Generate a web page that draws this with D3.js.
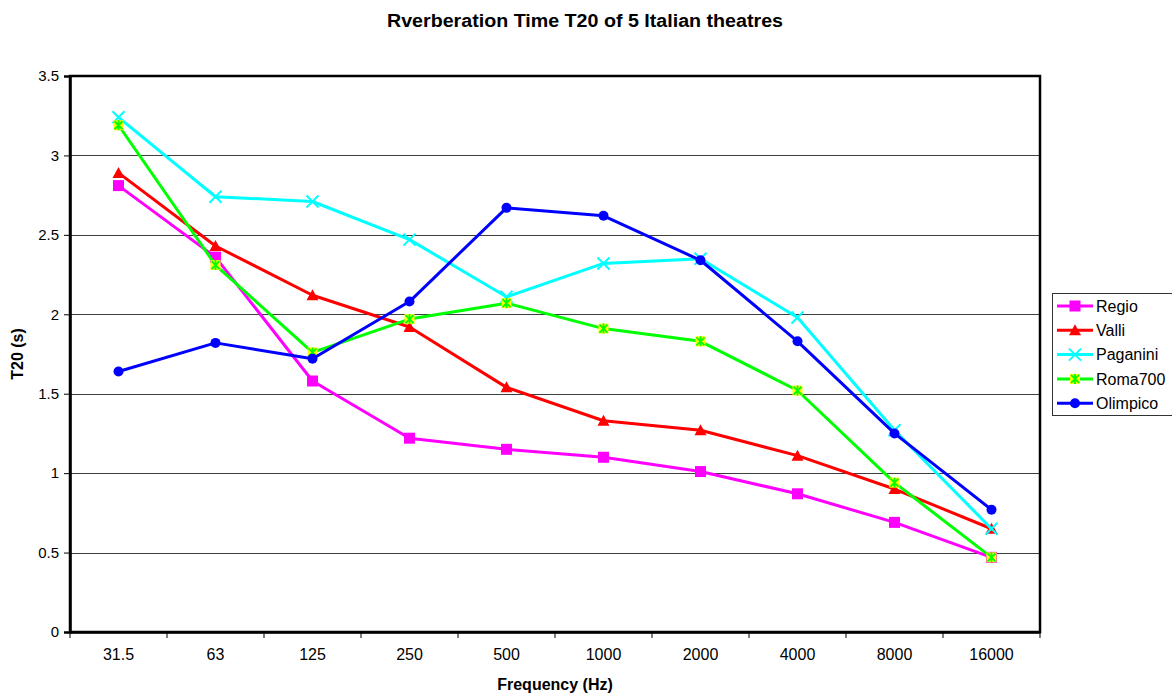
<!DOCTYPE html>
<html>
<head>
<meta charset="utf-8">
<script src="https://cdn.jsdelivr.net/npm/d3@7"></script>
<style>
  body { margin: 0; background: #fff; }
  svg text { font-family: Arial, "Liberation Sans", sans-serif; }
</style>
</head>
<body>
<div id="chart"></div>
<script>
const frequencies = ["31.5", "63", "125", "250", "500", "1000", "2000", "4000", "8000", "16000"];
const regio    = [2.81, 2.36, 1.58, 1.22, 1.15, 1.10, 1.01, 0.87, 0.69, 0.47];
const valli    = [2.89, 2.43, 2.12, 1.92, 1.54, 1.33, 1.27, 1.11, 0.90, 0.65];
const paganini = [3.24, 2.74, 2.71, 2.47, 2.11, 2.32, 2.35, 1.98, 1.27, 0.65];
const roma700  = [3.19, 2.31, 1.76, 1.97, 2.07, 1.91, 1.83, 1.52, 0.94, 0.47];
const olimpico = [1.64, 1.82, 1.72, 2.08, 2.67, 2.62, 2.34, 1.83, 1.25, 0.77];
const yTicks = [0, 0.5, 1, 1.5, 2, 2.5, 3, 3.5];

const series = [
  {name: "Regio", values: regio, color: "#ff00ff", marker: "square"},
  {name: "Valli", values: valli, color: "#ff0000", marker: "triangle"},
  {name: "Paganini", values: paganini, color: "#00ffff", marker: "x"},
  {name: "Roma700", values: roma700, color: "#00ff00", marker: "star"},
  {name: "Olimpico", values: olimpico, color: "#0000ff", marker: "circle"}
];

const width = 1172, height = 693;
const margin = {top: 76, right: 132, bottom: 61, left: 70};

const svg = d3.select("#chart").append("svg")
  .attr("width", width)
  .attr("height", height);

const x = d3.scaleBand()
  .domain(frequencies)
  .range([margin.left, width - margin.right]);

const y = d3.scaleLinear()
  .domain([0, 3.5])
  .range([height - margin.bottom, margin.top]);

// gridlines
svg.append("g").selectAll("line")
  .data(yTicks.filter(d => d > 0 && d < 3.5))
  .join("line")
  .attr("x1", margin.left).attr("x2", width - margin.right)
  .attr("y1", d => Math.round(y(d)) + 0.5).attr("y2", d => Math.round(y(d)) + 0.5)
  .attr("stroke", "#000").attr("stroke-width", 1).attr("opacity", 0.75);

// plot frame
svg.append("rect")
  .attr("x", margin.left).attr("y", margin.top)
  .attr("width", width - margin.left - margin.right)
  .attr("height", height - margin.top - margin.bottom)
  .attr("fill", "none").attr("stroke", "#000").attr("stroke-width", 2.5);

// y axis
const yAxis = svg.append("g")
  .attr("transform", `translate(${margin.left},0)`)
  .call(d3.axisLeft(y).tickValues(yTicks).tickSize(6).tickPadding(5).tickFormat(d3.format("~g")));
yAxis.select(".domain").attr("stroke-width", 2.5);
yAxis.selectAll(".tick text").style("font-size", "15px").attr("fill", "#000");

// x axis: ticks at category boundaries
const xAxis = svg.append("g")
  .attr("transform", `translate(0,${height - margin.bottom})`)
  .call(d3.axisBottom(x).tickSize(0).tickPadding(17));
xAxis.select(".domain").attr("stroke-width", 2.5);
xAxis.selectAll(".tick text").style("font-size", "16px").attr("fill", "#000");
const bounds = frequencies.map(f => x(f)).concat([x.range()[1]]);
xAxis.append("g").selectAll("line")
  .data(bounds)
  .join("line")
  .attr("x1", d => d).attr("x2", d => d)
  .attr("y1", 0).attr("y2", 6)
  .attr("stroke", "#000");

const cx = f => x(f) + x.bandwidth() / 2;

const line = d3.line()
  .x((d, i) => cx(frequencies[i]))
  .y(d => y(d));

function drawMarker(g, type, color, px, py) {
  if (type === "square") {
    g.append("rect").attr("x", px - 5.5).attr("y", py - 5.5).attr("width", 11).attr("height", 11).attr("fill", color);
  } else if (type === "triangle") {
    g.append("path").attr("d", `M${px},${py - 6}L${px + 6},${py + 5}L${px - 6},${py + 5}Z`).attr("fill", color);
  } else if (type === "x") {
    g.append("path").attr("d", `M${px - 6},${py - 6}L${px + 6},${py + 6}M${px - 6},${py + 6}L${px + 6},${py - 6}`)
      .attr("stroke", color).attr("stroke-width", 2);
  } else if (type === "star") {
    g.append("rect").attr("x", px - 5).attr("y", py - 5).attr("width", 10).attr("height", 10).attr("fill", "#ffff00");
    g.append("path").attr("d", `M${px - 4},${py - 4}L${px + 4},${py + 4}M${px - 4},${py + 4}L${px + 4},${py - 4}M${px},${py - 5}L${px},${py + 5}`)
      .attr("stroke", color).attr("stroke-width", 1.8);
  } else if (type === "circle") {
    g.append("circle").attr("cx", px).attr("cy", py).attr("r", 5).attr("fill", color);
  }
}

series.forEach(s => {
  const g = svg.append("g");
  g.append("path")
    .datum(s.values)
    .attr("d", line)
    .attr("fill", "none")
    .attr("stroke", s.color)
    .attr("stroke-width", 3)
    .attr("stroke-linejoin", "round");
  s.values.forEach((v, i) => drawMarker(g, s.marker, s.color, cx(frequencies[i]), y(v)));
});

// titles
svg.append("text")
  .attr("x", 585).attr("y", 27)
  .attr("text-anchor", "middle")
  .attr("textLength", 396).attr("lengthAdjust", "spacingAndGlyphs")
  .style("font-size", "18px").style("font-weight", "bold")
  .text("Rverberation Time T20 of 5 Italian theatres");

svg.append("text")
  .attr("x", 555).attr("y", 690)
  .attr("text-anchor", "middle")
  .style("font-size", "16px").style("font-weight", "bold")
  .text("Frequency (Hz)");

svg.append("text")
  .attr("transform", `translate(23,${(margin.top + height - margin.bottom) / 2}) rotate(-90)`)
  .attr("text-anchor", "middle")
  .style("font-size", "16px").style("font-weight", "bold")
  .text("T20 (s)");

// legend
const legend = svg.append("g").attr("transform", "translate(1052,293)");
legend.append("rect")
  .attr("x", 0.5).attr("y", 0.5).attr("width", 130).attr("height", 122)
  .attr("fill", "#fff").attr("stroke", "#333").attr("stroke-width", 1);
series.forEach((s, i) => {
  const ly = 13 + i * 24.3;
  const lg = legend.append("g");
  lg.append("line").attr("x1", 5).attr("x2", 41).attr("y1", ly).attr("y2", ly)
    .attr("stroke", s.color).attr("stroke-width", 3);
  drawMarker(lg, s.marker, s.color, 23, ly);
  lg.append("text").attr("x", 44).attr("y", ly).attr("dy", "0.36em")
    .style("font-size", "16px").text(s.name);
});
</script>
</body>
</html>
